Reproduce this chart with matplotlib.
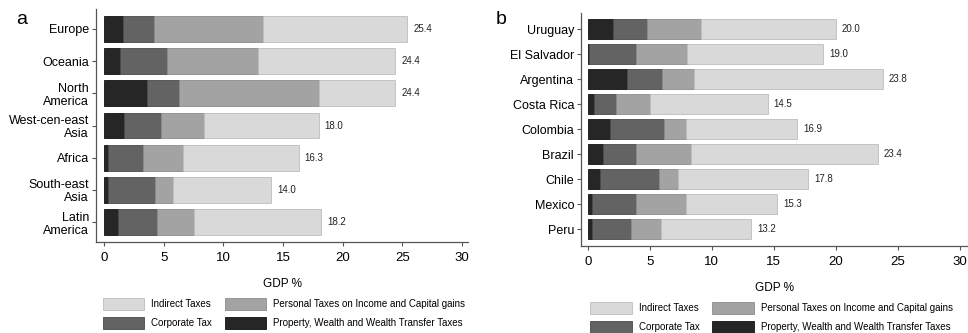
import numpy as np
import matplotlib.pyplot as plt
from matplotlib.patches import Patch

plt.rcParams['font.family'] = ['Liberation Sans', 'DejaVu Sans']

# Panel a: world regions
regions = ['Europe', 'Oceania', 'North\nAmerica', 'West-cen-east\nAsia', 'Africa',
           'South-east\nAsia', 'Latin\nAmerica']
reg_property = [1.6, 1.3, 3.6, 1.7, 0.35, 0.35, 1.15]
reg_corporate = [2.6, 4.0, 2.7, 3.1, 2.9, 3.9, 3.3]
reg_personal = [9.1, 7.6, 11.7, 3.6, 3.35, 1.5, 3.1]
reg_total = [25.4, 24.4, 24.4, 18.0, 16.3, 14.0, 18.2]

# Panel b: Latin American countries
countries = ['Uruguay', 'El Salvador', 'Argentina', 'Costa Rica', 'Colombia', 'Brazil',
             'Chile', 'Mexico', 'Peru']
cty_property = [2.0, 0.1, 3.15, 0.45, 1.8, 1.2, 1.0, 0.3, 0.3]
cty_corporate = [2.75, 3.75, 2.8, 1.85, 4.35, 2.65, 4.7, 3.55, 3.2]
cty_personal = [4.35, 4.15, 2.6, 2.7, 1.8, 4.45, 1.55, 4.05, 2.4]
cty_total = [20.0, 19.0, 23.8, 14.5, 16.9, 23.4, 17.8, 15.3, 13.2]

labels = ['Indirect Taxes', 'Corporate Tax', 'Personal Taxes on Income and Capital gains',
          'Property, Wealth and Wealth Transfer Taxes']
colors = {'indirect': '#d9d9d9', 'corporate': '#636363', 'personal': '#a3a3a3', 'property': '#262626'}
edges = {'indirect': '#bdbdbd', 'corporate': '#4a4a4a', 'personal': '#8c8c8c', 'property': '#111111'}


def panel(ax, names, prop, corp, pers, total, letter, ylim, xlim, letter_pos):
    y = np.arange(len(names))[::-1]
    prop = np.array(prop)
    corp = np.array(corp)
    pers = np.array(pers)
    total = np.array(total)
    indirect = total - prop - corp - pers
    h = 0.8
    ax.barh(y, prop, h, color=colors['property'], edgecolor=edges['property'], lw=0.6)
    ax.barh(y, corp, h, left=prop, color=colors['corporate'], edgecolor=edges['corporate'], lw=0.6)
    ax.barh(y, pers, h, left=prop + corp, color=colors['personal'], edgecolor=edges['personal'], lw=0.6)
    ax.barh(y, indirect, h, left=prop + corp + pers, color=colors['indirect'],
            edgecolor=edges['indirect'], lw=0.6)
    for yi, t in zip(y, total):
        ax.text(t + 0.5, yi, f'{t:.1f}', va='center', ha='left', fontsize=7, color='#222222')
    ax.set_yticks(y)
    ax.set_yticklabels(names, fontsize=9, linespacing=1.1)
    ax.set_xticks([0, 5, 10, 15, 20, 25, 30])
    ax.tick_params(axis='x', labelsize=9.5, length=3, color='#555555', pad=4)
    ax.tick_params(axis='y', length=3, color='#555555', pad=2)
    ax.set_xlim(xlim)
    ax.set_ylim(ylim)
    for s in ['top', 'right']:
        ax.spines[s].set_visible(False)
    for s in ['left', 'bottom']:
        ax.spines[s].set_color('#555555')
        ax.spines[s].set_linewidth(0.9)
    ax.set_xlabel('GDP %', fontsize=8.5, labelpad=10)
    ax.text(letter_pos[0], letter_pos[1], letter, transform=ax.transAxes,
            fontsize=14, va='center', ha='left')


fig = plt.figure(figsize=(9.68, 3.33), dpi=100)
ax_a = fig.add_axes([0.0992, 0.273, 0.3843, 0.700])
ax_b = fig.add_axes([0.6002, 0.2613, 0.3988, 0.701])

panel(ax_a, regions, reg_property, reg_corporate, reg_personal, reg_total, 'a',
      (-0.62, 6.62), (-0.67, 30.5), (-0.216, 0.957))
panel(ax_b, countries, cty_property, cty_corporate, cty_personal, cty_total, 'b',
      (-0.67, 8.67), (-0.56, 30.6), (-0.222, 0.97))

handles = [Patch(facecolor=colors['indirect'], edgecolor=edges['indirect'], lw=0.6),
           Patch(facecolor=colors['corporate'], edgecolor=edges['corporate'], lw=0.6),
           Patch(facecolor=colors['personal'], edgecolor=edges['personal'], lw=0.6),
           Patch(facecolor=colors['property'], edgecolor=edges['property'], lw=0.6)]

for x0, y0 in [(0.106, 0.104), (0.6095, 0.092)]:
    fig.legend(handles, labels, loc='upper left', bbox_to_anchor=(x0, y0), ncol=2,
               frameon=False, fontsize=7, handlelength=4.3, handleheight=1.45,
               handletextpad=0.7, columnspacing=1.3, labelspacing=0.75, borderpad=0,
               borderaxespad=0)

fig.savefig('out.png', dpi=100)
